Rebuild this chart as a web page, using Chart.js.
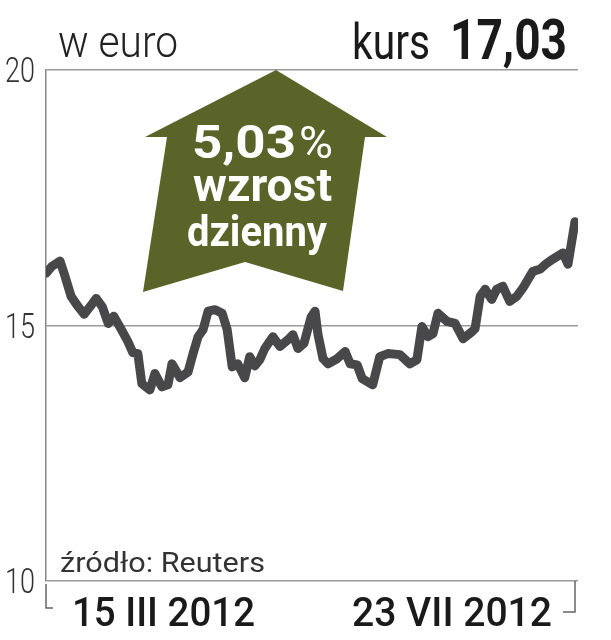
<!DOCTYPE html>
<html>
<head>
<meta charset="utf-8">
<script src="https://cdn.jsdelivr.net/npm/chart.js@4"></script>
<style>
  body { margin: 0; background: #fff; }
  canvas { display: block; }
</style>
</head>
<body>
<canvas id="chart" width="611" height="640"></canvas>
<script>
// dni notowań (pozycja na osi) i kurs w euro
const days = [0, 1.2, 2.8, 3.8, 5, 6.4, 7.6, 8.8, 10, 11.2,
  12.4, 13.5, 14.9, 16.3, 17.3, 18.3, 19.1, 20.7, 21.7, 23.1,
  24.3, 25.1, 26.7, 28.3, 29.3, 30.3, 31.3, 32.3, 33.7, 35.1,
  36.1, 37.1, 38.2, 39.6, 40.6, 41.6, 42.6, 43.6, 45.2, 46.6,
  48.2, 49.2, 50.2, 51.4, 52.8, 53.6, 54.2, 55.2, 56.2, 58,
  59.6, 60.6, 62, 63, 65.1, 66.5, 68.1, 70.5, 72.5, 73.9,
  74.9, 76.1, 77.1, 78.1, 79.9, 81.5, 83.1, 84.9, 85.5, 86.5,
  87.5, 88.8, 89.8, 91, 92.4, 93.8, 95, 97, 98.4, 99.8,
  101, 103, 104, 105.4];
const prices = [16.02, 16.16, 16.26, 15.96, 15.57, 15.37, 15.22, 15.37, 15.53, 15.37,
  15.04, 15.18, 14.94, 14.69, 14.47, 14.45, 13.86, 13.74, 14.06, 13.80,
  13.84, 14.25, 13.98, 14.09, 14.45, 14.78, 14.92, 15.28, 15.31, 15.24,
  14.92, 14.19, 14.25, 13.98, 14.39, 14.21, 14.33, 14.55, 14.78, 14.59,
  14.72, 14.82, 14.55, 14.65, 15.16, 15.28, 14.82, 14.35, 14.25, 14.35,
  14.49, 14.25, 14.23, 13.96, 13.84, 14.39, 14.45, 14.43, 14.25, 14.33,
  14.98, 14.78, 14.84, 15.24, 15.08, 15.04, 14.74, 14.88, 14.94, 15.57,
  15.71, 15.51, 15.71, 15.77, 15.47, 15.57, 15.73, 16.06, 16.10, 16.22,
  16.30, 16.42, 16.20, 17.03];
const yTicks = [10, 15, 20];
const dateLabels = ['15 III 2012', '23 VII 2012'];

// tekst zwężony do zadanej szerokości
function fitText(ctx, txt, x, y, font, w) {
  ctx.font = font;
  const m = ctx.measureText(txt).width;
  ctx.save();
  ctx.translate(x, y);
  ctx.scale(w / m, 1);
  ctx.textAlign = 'left';
  ctx.textBaseline = 'alphabetic';
  ctx.fillText(txt, 0, 0);
  ctx.restore();
}

const decor = {
  id: 'decor',
  beforeDatasetsDraw(chart) {
    const ctx = chart.ctx;
    // strzałka
    ctx.save();
    ctx.fillStyle = '#5b6428';
    ctx.beginPath();
    ctx.moveTo(276, 70);
    ctx.lineTo(387, 137);
    ctx.lineTo(365, 137);
    ctx.lineTo(343, 291);
    ctx.lineTo(245, 262);
    ctx.lineTo(143, 292);
    ctx.lineTo(167, 137);
    ctx.lineTo(145, 137);
    ctx.closePath();
    ctx.fill();
    ctx.fillStyle = '#fff';
    fitText(ctx, '5,03', 192, 158, '700 47px Roboto', 104);
    fitText(ctx, '%', 299, 158, '400 44px Roboto', 34);
    fitText(ctx, 'wzrost', 193, 201, '700 46px Roboto', 139);
    fitText(ctx, 'dzienny', 187, 246, '700 43px Roboto', 140);
    ctx.restore();
  },
  afterDraw(chart) {
    const ctx = chart.ctx;
    const y = chart.scales.y;
    ctx.save();
    ctx.fillStyle = '#333';
    yTicks.forEach(v => {
      const py = y.getPixelForValue(v);
      fitText(ctx, String(v), 5, py + 12, '300 35px Roboto', 30);
    });
    ctx.fillStyle = '#222';
    fitText(ctx, 'w euro', 58, 57, '300 44px Roboto', 120);
    ctx.fillStyle = '#1a1a1a';
    fitText(ctx, 'kurs', 352, 59, '400 50px Roboto', 78);
    fitText(ctx, '17,03', 450, 59, '700 56px Roboto', 117);
    ctx.fillStyle = '#333';
    fitText(ctx, 'źródło: Reuters', 60, 572, '400 27px Roboto', 205);
    ctx.fillStyle = '#1a1a1a';
    fitText(ctx, dateLabels[0], 72, 626, '500 40px Roboto', 183);
    fitText(ctx, dateLabels[1], 352, 626, '500 40px Roboto', 200);
    // nawiasy zakresu dat
    ctx.strokeStyle = '#666';
    ctx.lineWidth = 1.5;
    ctx.beginPath();
    ctx.moveTo(46, 584); ctx.lineTo(46, 608); ctx.lineTo(53, 608);
    ctx.moveTo(575, 581); ctx.lineTo(575, 612); ctx.lineTo(563, 612);
    ctx.stroke();
    ctx.restore();
  }
};

new Chart(document.getElementById('chart'), {
  type: 'line',
  data: {
    datasets: [{
      data: days.map((d, i) => ({ x: d, y: prices[i] })),
      borderColor: '#48484a',
      borderWidth: 9,
      pointRadius: 0,
      tension: 0,
      borderJoinStyle: 'round',
      borderCapStyle: 'round'
    }]
  },
  options: {
    responsive: false,
    animation: false,
    layout: { padding: { left: 46, right: 33, top: 70, bottom: 59 } },
    plugins: { legend: { display: false }, tooltip: { enabled: false } },
    scales: {
      x: { type: 'linear', display: false, min: 0, max: 106 },
      y: {
        min: 10, max: 20,
        afterFit: s => { s.width = 0; },
        afterBuildTicks: s => { s.ticks = yTicks.map(v => ({ value: v })); },
        ticks: { display: false },
        grid: { color: '#999', lineWidth: 1.5, drawTicks: false },
        border: { display: true, color: '#888', width: 1.5 }
      }
    }
  },
  plugins: [decor]
});
</script>
</body>
</html>
